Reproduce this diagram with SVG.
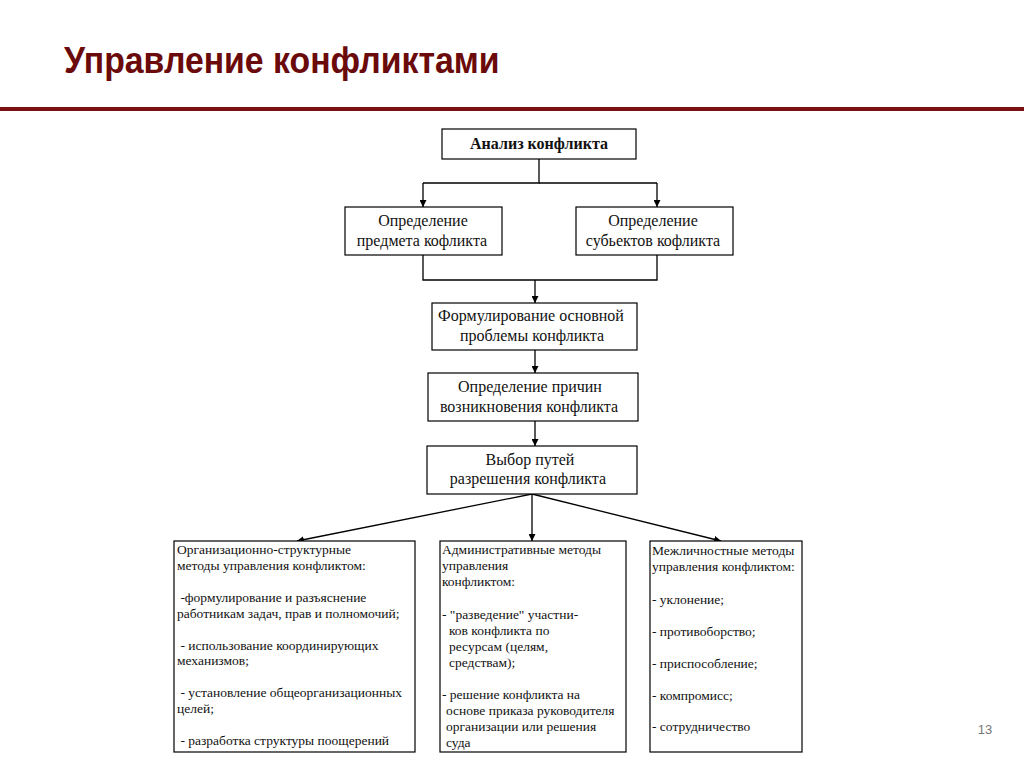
<svg xmlns="http://www.w3.org/2000/svg" width="1024" height="768" viewBox="0 0 1024 768">
<style>
.box{fill:#fff;stroke:#000;stroke-width:1.2}
.t{font-family:"Liberation Serif","Times New Roman",serif;font-size:16px;fill:#111;text-anchor:middle}
.b{font-weight:bold}
.s{font-family:"Liberation Serif","Times New Roman",serif;font-size:13.5px;fill:#111}
.c{stroke:#000;stroke-width:1.3;fill:none}
</style>
<defs>
<marker id="ah" viewBox="0 0 10 10" refX="10" refY="5" markerWidth="7" markerHeight="7" orient="auto" markerUnits="userSpaceOnUse">
<path d="M0,0 L10,5 L0,10 z" fill="#000"/>
</marker>
</defs>
<rect width="1024" height="768" fill="#fff"/>
<g id="header">
<text x="64" y="73" font-family="Liberation Sans, Arial, sans-serif" font-size="33.8" font-weight="bold" fill="#6b0a0a" transform="translate(0,73) scale(1,1.1) translate(0,-73)">Управление конфликтами</text>
<rect x="0" y="107" width="1024" height="4" fill="#7a1010"/>
<text x="985" y="734" font-family="Liberation Sans, Arial, sans-serif" font-size="13" fill="#777" text-anchor="middle">13</text>
</g>
<g id="connectors">
<path class="c" d="M539,159 V183 H423"/>
<path class="c" d="M423,183 V207" marker-end="url(#ah)"/>
<path class="c" d="M539,183 H657"/>
<path class="c" d="M657,183 V207" marker-end="url(#ah)"/>
<path class="c" d="M423,255 V280 H657 V255"/>
<path class="c" d="M535,280 V303" marker-end="url(#ah)"/>
<path class="c" d="M535,350 V373" marker-end="url(#ah)"/>
<path class="c" d="M535,421 V446" marker-end="url(#ah)"/>
<path class="c" d="M532,494 L297,541" marker-end="url(#ah)"/>
<path class="c" d="M532,494 V541" marker-end="url(#ah)"/>
<path class="c" d="M532,494 L721,541" marker-end="url(#ah)"/>
</g>
<g id="n1">
<rect class="box" x="442" y="129" width="194" height="30"/>
<text class="t b" x="539" y="149">Анализ конфликта</text>
</g>
<g id="n2">
<rect class="box" x="345" y="207" width="157" height="48"/>
<text class="t" x="423" y="226">Определение</text>
<text class="t" x="422" y="246">предмета кофликта</text>
</g>
<g id="n3">
<rect class="box" x="576" y="207" width="157" height="48"/>
<text class="t" x="653" y="226">Определение</text>
<text class="t" x="653" y="246">субьектов кофликта</text>
</g>
<g id="n4">
<rect class="box" x="432" y="303" width="205" height="47"/>
<text class="t" x="531" y="321">Формулирование основной</text>
<text class="t" x="532" y="341">проблемы конфликта</text>
</g>
<g id="n5">
<rect class="box" x="428" y="373" width="210" height="48"/>
<text class="t" x="530" y="392">Определение причин</text>
<text class="t" x="529" y="412">возникновения конфликта</text>
</g>
<g id="n6">
<rect class="box" x="427" y="446" width="210" height="48"/>
<text class="t" x="530" y="465">Выбор путей</text>
<text class="t" x="528" y="484">разрешения конфликта</text>
</g>
<g id="n7">
<rect class="box" x="174" y="541" width="241" height="211"/>
<text class="s" x="177" y="554">Организационно-структурные</text>
<text class="s" x="177" y="570">методы управления конфликтом:</text>
<text class="s" x="177" y="602" xml:space="preserve"> -формулирование и разъяснение</text>
<text class="s" x="177" y="618">работникам задач, прав и полномочий;</text>
<text class="s" x="177" y="650" xml:space="preserve"> - использование координирующих</text>
<text class="s" x="177" y="665">механизмов;</text>
<text class="s" x="177" y="697" xml:space="preserve"> - установление общеорганизационных</text>
<text class="s" x="177" y="713">целей;</text>
<text class="s" x="177" y="745" xml:space="preserve"> - разработка структуры поощерений</text>
</g>
<g id="n8">
<rect class="box" x="440" y="541" width="186" height="211"/>
<text class="s" x="442" y="554">Административные методы</text>
<text class="s" x="442" y="570">управления</text>
<text class="s" x="442" y="586">конфликтом:</text>
<text class="s" x="442" y="619">- "разведение" участни-</text>
<text class="s" x="449" y="635">ков конфликта по</text>
<text class="s" x="449" y="651">ресурсам (целям,</text>
<text class="s" x="449" y="667">средствам);</text>
<text class="s" x="442" y="699">- решение конфликта на</text>
<text class="s" x="446" y="715">основе приказа руководителя</text>
<text class="s" x="446" y="731">организации или решения</text>
<text class="s" x="446" y="747">суда</text>
</g>
<g id="n9">
<rect class="box" x="650" y="541" width="152" height="211"/>
<text class="s" x="652" y="555">Межличностные методы</text>
<text class="s" x="652" y="571">управления конфликтом:</text>
<text class="s" x="652" y="604">- уклонение;</text>
<text class="s" x="652" y="636">- противоборство;</text>
<text class="s" x="652" y="668">- приспособление;</text>
<text class="s" x="652" y="700">- компромисс;</text>
<text class="s" x="652" y="731">- сотрудничество</text>
</g>
</svg>
